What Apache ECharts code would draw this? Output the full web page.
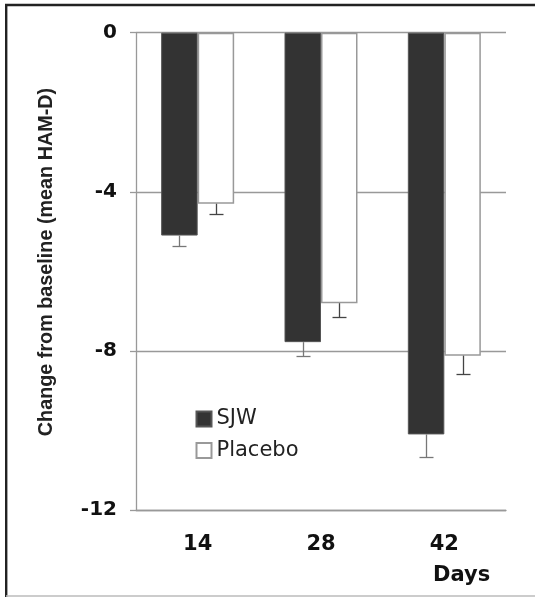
<!DOCTYPE html>
<html>
<head>
<meta charset="utf-8">
<script src="https://cdn.jsdelivr.net/npm/echarts@6/dist/echarts.min.js"></script>
<style>
html,body{margin:0;padding:0;background:#fff;}
#c{width:535px;height:597px;}
</style>
</head>
<body>
<div id="c"></div>
<script>
var categories = ['14', '28', '42'];
var sjwValues = [-5.1, -7.78, -10.1];
var placeboValues = [-4.3, -6.8, -8.12];
var sjwErrors = [0.26, 0.35, 0.56];
var placeboErrors = [0.25, 0.36, 0.46];
var yTicks = [0, -4, -8, -12];

var BAR_W = 36.5;

function errData(vals, errs) {
  return vals.map(function (v, i) { return [i, v, errs[i]]; });
}
function errRender(offset, color) {
  return function (params, api) {
    var c = api.coord([api.value(0), api.value(1)]);
    var b = api.coord([api.value(0), api.value(1) - api.value(2)]);
    var x = Math.round(c[0] + offset) + 0.5;
    var y2 = Math.round(b[1]) + 0.5;
    var st = { stroke: color, lineWidth: 1.3 };
    return {
      type: 'group',
      children: [
        { type: 'line', shape: { x1: x, y1: c[1], x2: x, y2: y2 }, style: st },
        { type: 'line', shape: { x1: x - 7, y1: y2, x2: x + 7, y2: y2 }, style: st }
      ]
    };
  };
}

var chart = echarts.init(document.getElementById('c'), null, { renderer: 'canvas' });
chart.setOption({
  animation: false,
  backgroundColor: '#ffffff',
  grid: { left: 136, right: 29, top: 32.7, bottom: 87, containLabel: false },
  legend: {
    data: ['SJW', 'Placebo'],
    orient: 'vertical',
    left: 195.5,
    top: 408.5,
    padding: 0,
    itemWidth: 15,
    itemHeight: 15,
    itemGap: 10.5,
    icon: 'rect',
    textStyle: { fontFamily: 'DejaVu Sans', fontSize: 21, color: '#222' }
  },
  xAxis: {
    type: 'category',
    data: categories,
    axisLine: { onZero: false, lineStyle: { color: '#999', width: 1.3 } },
    axisTick: { show: false },
    axisLabel: { margin: 24, fontFamily: 'DejaVu Sans', fontWeight: 'bold', fontSize: 21, color: '#111' },
    splitLine: { show: false }
  },
  yAxis: {
    type: 'value',
    min: -12,
    max: 0,
    interval: 4,
    axisLine: { show: true, lineStyle: { color: '#999', width: 1.3 } },
    axisTick: { show: true, length: 6, lineStyle: { color: '#999', width: 1.3 } },
    axisLabel: {
      margin: 19, fontFamily: 'DejaVu Sans', fontWeight: 'bold', fontSize: 20, color: '#111',
      formatter: function (v) { return yTicks.indexOf(v) >= 0 ? String(v) : ''; }
    },
    splitLine: { show: true, lineStyle: { color: '#999', width: 1.3 } }
  },
  graphic: [
    { type: 'text', x: 47, y: 262, rotation: Math.PI / 2,
      style: { text: 'Change from baseline (mean HAM-D)', fontFamily: 'Liberation Sans', fontWeight: 'bold', fontSize: 19.8, fill: '#222', align: 'center', verticalAlign: 'middle' } },
    { type: 'text', x: 433, y: 565,
      style: { text: 'Days', fontFamily: 'DejaVu Sans', fontWeight: 'bold', fontSize: 21, fill: '#111', align: 'left', verticalAlign: 'top' } },
    { type: 'line', shape: { x1: 6.2, y1: 5, x2: 6.2, y2: 597 }, style: { stroke: '#222', lineWidth: 2.4 } },
    { type: 'line', shape: { x1: 5, y1: 5, x2: 535, y2: 5 }, style: { stroke: '#222', lineWidth: 2.4 } },
    { type: 'line', shape: { x1: 6, y1: 596, x2: 535, y2: 596 }, style: { stroke: '#bbb', lineWidth: 1.6 } }
  ],
  series: [
    { name: 'SJW', type: 'bar', data: sjwValues, barWidth: BAR_W, barGap: '0%',
      itemStyle: { color: '#333333', borderColor: '#555', borderWidth: 1 } },
    { name: 'Placebo', type: 'bar', data: placeboValues, barWidth: BAR_W, barGap: '0%',
      itemStyle: { color: '#ffffff', borderColor: '#999', borderWidth: 1.5 } },
    { name: 'SJW error', type: 'custom', data: errData(sjwValues, sjwErrors),
      encode: { x: 0, y: 1 }, renderItem: errRender(-BAR_W / 2, '#777'), z: 5 },
    { name: 'Placebo error', type: 'custom', data: errData(placeboValues, placeboErrors),
      encode: { x: 0, y: 1 }, renderItem: errRender(BAR_W / 2, '#444'), z: 5 }
  ]
});
</script>
</body>
</html>
